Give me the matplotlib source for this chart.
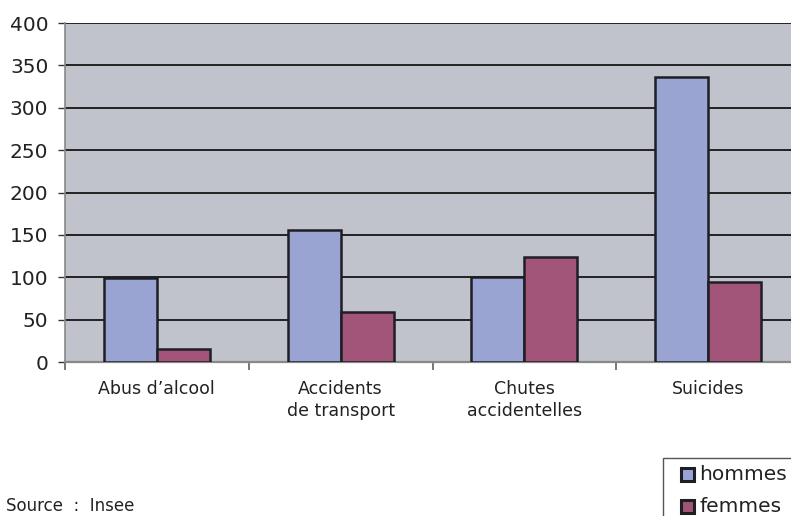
import matplotlib
matplotlib.use("Agg")
import matplotlib.pyplot as plt
import numpy as np
from matplotlib.patches import Rectangle

categories = ["Abus d\u2019alcool", "Accidents\nde transport", "Chutes\naccidentelles", "Suicides"]
series_names = ["hommes", "femmes"]
hommes = [99, 156, 100, 336]
femmes = [15, 59, 124, 94]
yticks = [0, 50, 100, 150, 200, 250, 300, 350, 400]

c_h = "#99A4D3"
c_f = "#A35479"
bg = "#C0C3CB"
txt = "#222222"

plt.rcParams['font.family'] = ['DejaVu Sans']

W, H = 791, 516
fig = plt.figure(figsize=(W/100, H/100), dpi=100)
ax = fig.add_axes([65/W, 1-362/H, (800-65)/W, (362-23)/H])
ax.set_facecolor(bg)

x = np.arange(len(categories))
w = 0.289
ax.bar(x - w/2, hommes, w, color=c_h, edgecolor="#1e1e24", linewidth=1.8, zorder=3)
ax.bar(x + w/2, femmes, w, color=c_f, edgecolor="#1e1e24", linewidth=1.8, zorder=3)

ax.set_ylim(0, 400)
ax.set_xlim(-0.5, len(categories) - 0.5)
ax.set_yticks(yticks)
ax.set_yticklabels([str(v) for v in yticks], fontsize=14.5, color=txt)
ax.yaxis.grid(True, color="#222222", linewidth=1.4, zorder=1)
ax.set_axisbelow(True)

ax.set_xticks(x)
ax.set_xticklabels(categories, fontsize=12.5, color=txt, linespacing=1.25)
ax.tick_params(axis='x', length=0, pad=13)
ax.set_xticks(np.arange(-0.5, len(categories), 1), minor=True)
ax.tick_params(axis='x', which='minor', length=6, width=1.4, color="#777777")
ax.tick_params(axis='y', length=5, width=1, color="#333333", pad=7)

for s in ['top', 'right']:
    ax.spines[s].set_visible(False)
ax.spines['left'].set_color("#888888")
ax.spines['left'].set_linewidth(1.2)
ax.spines['bottom'].set_color("#888888")
ax.spines['bottom'].set_linewidth(1.6)

# manual legend (frame extends past the figure edge like the reference)
def fx(px): return px / W
def fy(py): return 1 - py / H

fig.add_artist(Rectangle((fx(663), fy(530)), fx(800) - fx(663), fy(458) - fy(530),
                         transform=fig.transFigure, facecolor="white",
                         edgecolor="#555555", linewidth=1))
for name, col, cy in zip(series_names, [c_h, c_f], [474, 506]):
    s = 13
    fig.add_artist(Rectangle((fx(681), fy(cy + s/2)), s/W, s/H, transform=fig.transFigure,
                             facecolor=col, edgecolor="#1e1e24", linewidth=2.2))
    fig.text(fx(699), fy(cy), name, fontsize=14.5, color=txt, ha='left', va='center')

fig.text(fx(6), fy(515), "Source  :  Insee", fontsize=12, color=txt, ha='left', va='bottom')

fig.savefig("out.png", dpi=100)
